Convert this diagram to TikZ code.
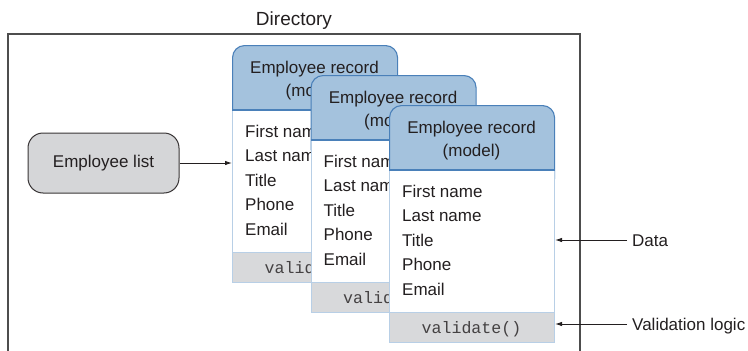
\documentclass[tikz,border=0pt]{standalone}
\usepackage{fontspec}
\setmainfont{Liberation Sans}
\setmonofont{Liberation Mono}
\usetikzlibrary{arrows.meta}
\definecolor{txt}{HTML}{231F20}
\definecolor{hdrfill}{HTML}{A4C2DD}
\definecolor{hdrline}{HTML}{4A80B9}
\definecolor{bodyline}{HTML}{B8CFE6}
\definecolor{barfill}{HTML}{D8D9DB}
\definecolor{listfill}{HTML}{D5D6D8}
\definecolor{dirline}{HTML}{4D4D4D}
\tikzset{
  hdr/.style={draw=hdrline, fill=hdrfill, line width=1.1pt, rounded corners=12pt, minimum width=165pt, minimum height=85pt, anchor=north west, inner sep=0pt},
  cardbody/.style={draw=bodyline, fill=white, line width=1pt, minimum width=165pt, minimum height=142pt, anchor=north west, inner sep=0pt},
  cardbar/.style={draw=bodyline, fill=barfill, line width=1pt, minimum width=165pt, minimum height=30pt, anchor=north west, inner sep=0pt},
  lbl/.style={text=txt, font=\fontsize{17}{20}\selectfont, inner sep=0pt},
  codelbl/.style={text=txt!85, font=\ttfamily\fontsize{16.6}{20}\selectfont, inner sep=0pt},
  listbox/.style={draw=txt!90, fill=listfill, line width=1pt, rounded corners=15pt, minimum width=151pt, minimum height=60pt, inner sep=0pt, text=txt, font=\fontsize{17}{20}\selectfont},
  arr/.style={draw=txt, line width=0.9pt, -{Latex[length=7pt,width=4.5pt]}},
  dirbox/.style={draw=dirline, line width=1.1pt}
}
\begin{document}
\begin{tikzpicture}[x=1pt,y=-1pt]
\useasboundingbox (0,0) rectangle (748,351);
% Directory container
\node[lbl, font=\fontsize{19}{22}\selectfont, anchor=base] (dirtitle) at (294,25) {Directory};
\draw[dirbox] (8,353) -- (8,34) -- (580,34) -- (580,353);
% Employee list
\node[listbox] (list) at (103.5,163) {Employee list};
% Cards
\foreach \i/\x/\y in {1/232/45, 2/310.5/75, 3/389/105} {
  \node[hdr] (c\i head) at (\x,\y) {};
  \node[cardbody] (c\i body) at (\x,{\y+65}) {};
  \draw[draw=hdrline, line width=1.1pt] (c\i body.north west) -- (c\i body.north east);
  \node[cardbar] (c\i bar) at (\x,{\y+207}) {};
  \node[lbl, anchor=base] (c\i ta) at ({\x+82.5},{\y+28}) {Employee record};
  \node[lbl, anchor=base] (c\i tb) at ({\x+82.5},{\y+51}) {(model)};
  \foreach \t [count=\j] in {First name, Last name, Title, Phone, Email} {
    \node[lbl, anchor=base west] (c\i f\j) at ({\x+13},{\y+92+24.6*(\j-1)}) {\t};
  }
  \node[codelbl, anchor=base] (c\i code) at ({\x+82.5},{\y+228}) {validate()};
}
% Arrows and labels
\draw[arr] (list.east) -- (list.east -| c1body.west);
\node[lbl, anchor=base west] (data) at (632,246) {Data};
\node[lbl, anchor=base west] (vlog) at (632,330) {Validation logic};
\coordinate (dataS) at (627,240);
\coordinate (vlogS) at (627,324);
\draw[arr] (dataS) -- (dataS -| c3body.east);
\draw[arr] (vlogS) -- (vlogS -| c3bar.east);
\end{tikzpicture}
\end{document}
